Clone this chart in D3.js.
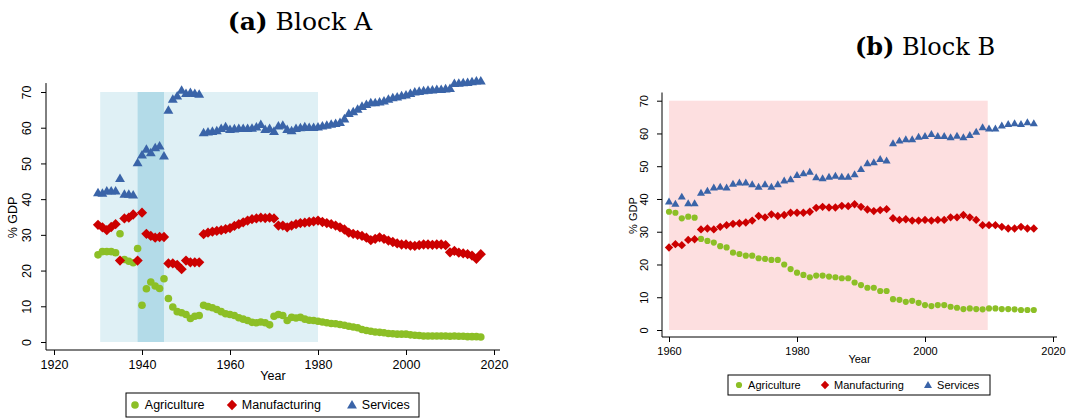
<!DOCTYPE html>
<html>
<head>
<meta charset="utf-8">
<script src="https://cdn.jsdelivr.net/npm/d3@7"></script>
<style>
  body { margin: 0; background: #fff; }
  text { font-family: "Liberation Sans", Arial, sans-serif; }
</style>
</head>
<body>
<svg id="chart" width="1068" height="419"></svg>
<script>
// Block A, 1930-2017
const yearsA = d3.range(1930, 2018);
const agriA = [24.4,25.3,25.3,25.3,25,30.3,23.1,22.6,22.2,26.2,10.3,14.9,16.8,15.7,15,17.7,12.2,9.8,8.5,8.2,7.7,6.6,7.2,7.4,
  10.3,9.9,9.6,9.1,8.5,7.9,7.7,7.4,6.8,6.4,6.0,5.5,5.4,5.6,5.4,4.8,7.2,7.7,7.4,6.0,6.9,6.7,6.9,6.4,6.1,6.0,
  5.8,5.6,5.4,5.2,5.1,4.9,4.7,4.4,4.2,4.0,3.5,3.2,3.0,2.8,2.7,2.6,2.4,2.3,2.2,2.2,2.2,2.0,1.9,1.8,1.7,1.7,1.7,1.7,1.7,1.7,1.6,1.7,1.6,1.6,1.5,1.5,1.5,1.4];
const manuA = [32.8,32.1,31.3,32.2,33,22.8,34.6,34.8,35.7,22.8,36.2,30.3,29.7,29.2,29.4,29.4,22,22,21.6,20.4,22.8,22.3,22.3,22.3,
  30.2,30.6,30.9,31.1,31.3,31.6,31.9,32.5,33.0,33.5,34.0,34.4,34.6,34.8,34.7,34.8,34.6,32.6,32.6,32.1,32.6,33.0,33.3,33.4,33.6,33.8,
  34.0,33.6,33.3,33.0,32.6,32.1,31.5,30.6,30.3,30.0,29.7,29.2,28.5,28.9,29.3,28.9,28.4,28.0,27.6,27.3,27.3,27.0,26.9,27.1,27.3,27.3,27.2,27.3,27.3,27.1,25.1,25.5,25.0,24.8,24.6,24.2,23.3,24.6];
const servA = [41.8,41.7,42.3,42.3,42.3,45.8,41.4,41.4,41.2,50.2,52.4,54,53,54.4,54.9,52.1,64.9,68,68.9,70.5,69.6,69.9,69.6,69.4,
  58.6,58.8,59,59.2,59.8,60.3,59.5,59.7,59.8,59.8,59.8,59.9,60.2,60.9,59.5,59.8,59,60.5,60.7,59.5,59.2,59.8,60.0,60.3,60.1,60.1,
  60.2,60.5,60.7,61.0,61.2,61.5,62.5,64.0,64.5,65.2,66.0,66.5,67.0,67.0,67.2,67.5,68.0,68.4,68.6,69.0,69.2,69.6,70.0,70.2,70.4,70.5,70.6,70.7,70.7,70.9,71.0,72.4,72.5,72.6,72.7,72.9,73.1,73.1];

// Block B, 1960-2017
const yearsB = d3.range(1960, 2018);
const agriB = [36.1,35.8,34.1,34.6,34.3,27.8,27.2,26.7,25.6,25.2,23.6,23.2,22.7,22.7,21.9,21.7,21.4,21.4,20,18.6,17.5,16.8,16.1,16.6,16.6,16.3,16.1,15.8,15.8,14.5,
  13.7,12.9,12.9,11.9,11.9,9.4,9.2,8.6,8.9,8.3,7.6,7.3,7.6,7.6,7.1,6.8,6.4,6.6,6.4,6.3,6.6,6.6,6.4,6.4,6.3,6.1,6.1,6.1];
const manuB = [25.2,26.2,25.9,27.5,27.7,30.7,31,30.7,31.5,32,32.4,32.6,32.8,33.4,34.8,34.4,35.3,34.8,35.1,35.8,35.8,35.8,36.1,37.3,37.6,37.4,37.4,37.9,37.8,38.4,
  37.6,36.8,36.3,36.6,36.9,34.1,33.6,33.8,33.4,33.4,33.6,33.4,33.6,33.6,34.4,34.4,35.1,34.4,33.6,32,32,32,31.5,31,31,31.5,31,31];
const servB = [39.2,38.5,40.7,38.7,38.7,41.9,42.5,43.5,43.7,43.5,44.6,45,45,44.5,43.7,44.5,43.7,44.5,45.6,46,47.3,47.8,48.3,46.6,46.3,46.8,47.1,46.8,46.8,47.5,
  49.1,50.9,51.2,52.2,51.7,57,57.8,58.2,58.2,59,59.2,59.8,59.2,59.2,58.8,59.3,58.8,59.5,60.5,61.9,61.5,61.5,62.4,62.9,63.1,62.9,63.4,63.1];

const seriesNames = ["Agriculture", "Manufacturing", "Services"];
const colors = ["#8cbf26", "#cc0000", "#3a64a8"];
const yTicks = [0, 10, 20, 30, 40, 50, 60, 70];

const svg = d3.select("#chart");

function drawPanel(o) {
  const g = svg.append("g");
  const x = d3.scaleLinear().domain(o.xDomain).range([o.x0, o.x1]);
  const y = d3.scaleLinear().domain([0, 70]).range([o.y0, o.y1]);

  o.shades.forEach(s => {
    g.append("rect")
      .attr("x", x(s.from)).attr("width", x(s.to) - x(s.from))
      .attr("y", y(70)).attr("height", y(0) - y(70))
      .attr("fill", s.color);
  });

  const series = [o.agri, o.manu, o.serv];
  const r = o.r;
  series.forEach((vals, i) => {
    const pts = g.append("g").selectAll("path").data(vals.map((v, k) => [o.years[k], v])).enter()
      .append("path")
      .attr("transform", d => `translate(${x(d[0])},${y(d[1])})`)
      .attr("fill", colors[i]);
    if (i === 0) pts.attr("d", d3.symbol(d3.symbolCircle, Math.PI * r * r)());
    if (i === 1) pts.attr("d", `M0,${-r * 1.35}L${r * 1.35},0L0,${r * 1.35}L${-r * 1.35},0Z`);
    if (i === 2) pts.attr("d", `M0,${-r * 1.3}L${r * 1.3},${r * 0.95}L${-r * 1.3},${r * 0.95}Z`);
  });

  const xa = g.append("g").attr("transform", `translate(0,${o.axisY})`)
    .call(d3.axisBottom(x).tickValues(o.xTicks).tickFormat(d3.format("d")).tickSize(5).tickSizeOuter(0));
  xa.select(".domain").attr("d", `M${o.axisX},0H${o.x1 + o.xPad}`);
  xa.selectAll("text").attr("font-size", o.fs).attr("fill", "#000").attr("dy", "0.9em");

  const ya = g.append("g").attr("transform", `translate(${o.axisX},0)`)
    .call(d3.axisLeft(y).tickValues(yTicks).tickSize(5).tickSizeOuter(0));
  ya.select(".domain").attr("d", `M0,${o.axisY}V${y(72.5)}`);
  ya.selectAll(".tick text").attr("font-size", o.fs).attr("fill", "#000")
    .attr("text-anchor", "middle").attr("x", 0).attr("dy", 0)
    .attr("transform", `translate(${-o.fs * 0.75 - 6},0) rotate(-90)`);

  g.append("text").attr("x", (o.axisX + o.x1 + o.xPad) / 2).attr("y", o.axisY + o.fs * 2.4)
    .attr("text-anchor", "middle").attr("font-size", o.fs).text("Year");
  g.append("text").attr("transform", `translate(${o.axisX - o.fs * 2.3},${(o.axisY + y(72)) / 2}) rotate(-90)`)
    .attr("text-anchor", "middle").attr("font-size", o.fs).text("% GDP");

  // title
  const t = g.append("text").attr("x", o.titleX).attr("y", o.titleY).attr("text-anchor", "middle")
    .attr("font-size", o.titleFs).style("font-family", "'DejaVu Serif', 'Liberation Serif', serif");
  t.append("tspan").attr("font-weight", "bold").text("(" + o.letter + ")");
  t.append("tspan").text(" " + o.name);

  // legend
  const L = o.legend;
  g.append("rect").attr("x", L.x).attr("y", L.y).attr("width", L.w).attr("height", L.h)
    .attr("fill", "#fff").attr("stroke", "#000").attr("stroke-width", 1);
  seriesNames.forEach((n, i) => {
    const lx = L.x + L.offs[i], ly = L.y + L.h / 2;
    const m = g.append("path").attr("transform", `translate(${lx},${ly})`).attr("fill", colors[i]);
    if (i === 0) m.attr("d", d3.symbol(d3.symbolCircle, Math.PI * r * r)());
    if (i === 1) m.attr("d", `M0,${-r * 1.35}L${r * 1.35},0L0,${r * 1.35}L${-r * 1.35},0Z`);
    if (i === 2) m.attr("d", `M0,${-r * 1.3}L${r * 1.3},${r * 0.95}L${-r * 1.3},${r * 0.95}Z`);
    g.append("text").attr("x", lx + r + 6).attr("y", ly).attr("dy", "0.35em")
      .attr("font-size", o.fs).text(n);
  });
}

drawPanel({
  years: yearsA, agri: agriA, manu: manuA, serv: servA,
  xDomain: [1920, 2020], xTicks: [1920, 1940, 1960, 1980, 2000, 2020],
  x0: 54, x1: 494, y0: 342, y1: 92, axisX: 46, axisY: 350, xPad: 6,
  r: 3.8, fs: 12.5,
  shades: [{ from: 1930.5, to: 1980, color: "#dff0f5" }, { from: 1939, to: 1945, color: "#b3dbe8" }],
  titleX: 300, titleY: 30, titleFs: 25, letter: "a", name: "Block A",
  legend: { x: 126, y: 393, w: 293, h: 24, offs: [9, 106, 226] }
});

drawPanel({
  years: yearsB, agri: agriB, manu: manuB, serv: servB,
  xDomain: [1960, 2020], xTicks: [1960, 1980, 2000, 2020],
  x0: 669, x1: 1053, y0: 330, y1: 100.7, axisX: 662, axisY: 337, xPad: 4,
  r: 3.1, fs: 11,
  shades: [{ from: 1960, to: 2009.8, color: "#fddfe0" }],
  titleX: 925, titleY: 55, titleFs: 24, letter: "b", name: "Block B",
  legend: { x: 728, y: 375, w: 262, h: 20, offs: [11, 97, 200] }
});
</script>
</body>
</html>
